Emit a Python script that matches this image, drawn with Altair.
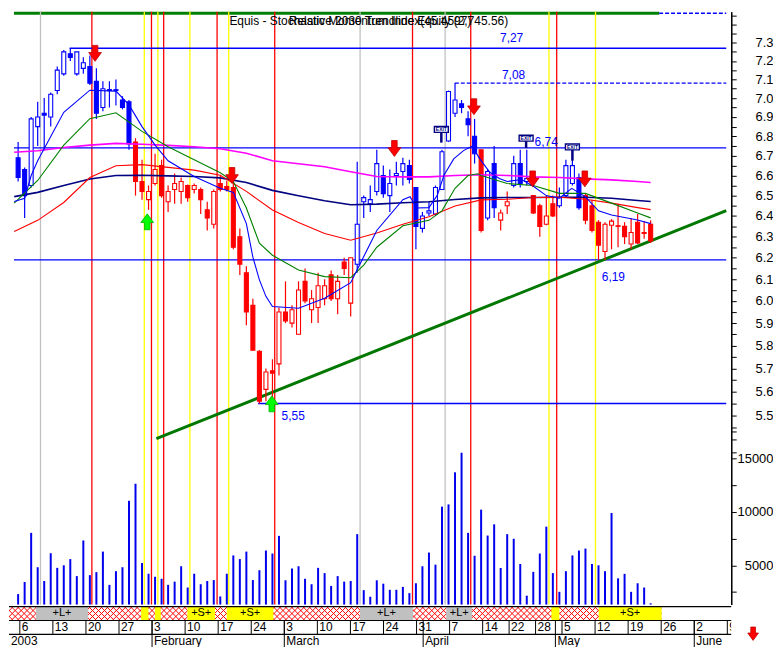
import altair as alt
import pandas as pd
import numpy as np

FONT = "Liberation Sans"
W, H_TOP, H_BOT = 726, 596, 42
X_MIN, X_MAX = -1.637, 107.59          # trading-day index range shown
P_MIN, P_MAX = 4.764, 7.475            # log price range of the upper panel
V_MIN, V_MAX = 1330, 56741             # volume range of the same panel

# ---------------- candles (trading day index, 0 = 6 Jan 2003) ----------------
DAY = list(range(-1, 97))
OPEN = [6.69, 6.63, 6.55, 6.85, 6.92, 6.90, 7.04, 7.13, 7.24, 7.13, 7.16, 7.17, 7.09, 6.95, 7.045, 7.04,
        6.99, 6.98, 6.77, 6.57, 6.48, 6.56, 6.65, 6.47, 6.53, 6.52, 6.55, 6.53, 6.53, 6.43, 6.36, 6.56,
        6.545, 6.54, 6.30, 6.13, 5.98, 5.775, 5.61, 5.69, 5.72, 5.95, 5.90, 5.85, 6.09, 5.96, 5.97, 6.01,
        6.12, 6.01, 6.18, 5.99, 6.17, 6.47, 6.46, 6.52, 6.60, 6.50, 6.60, 6.62, 6.65, 6.54, 6.34, 6.415,
        6.41, 6.53, 6.775, 6.92, 6.97, 6.89, 6.80, 6.73, 6.39, 6.66, 6.38, 6.45, 6.55, 6.66, 6.57, 6.50,
        6.45, 6.36, 6.46, 6.45, 6.50, 6.56, 6.59, 6.50, 6.45, 6.37, 6.23, 6.355, 6.35, 6.35, 6.265, 6.37,
        6.32, 6.36]
HIGH = [6.77, 6.64, 6.90, 6.98, 7.00, 7.03, 7.17, 7.26, 7.27, 7.25, 7.22, 7.23, 7.16, 7.09, 7.09, 7.10,
        7.01, 6.99, 6.79, 6.68, 6.55, 6.71, 6.68, 6.55, 6.61, 6.59, 6.555, 6.56, 6.54, 6.47, 6.53, 6.60,
        6.575, 6.59, 6.34, 6.16, 6.01, 5.78, 5.70, 5.74, 5.97, 6.09, 5.98, 6.09, 6.15, 6.05, 6.13, 6.10,
        6.14, 6.12, 6.20, 6.20, 6.67, 6.50, 6.55, 6.73, 6.65, 6.63, 6.67, 6.69, 6.68, 6.54, 6.42, 6.47,
        6.55, 6.73, 7.04, 7.08, 6.99, 6.93, 6.89, 6.73, 6.63, 6.75, 6.43, 6.52, 6.70, 6.73, 6.73, 6.50,
        6.46, 6.50, 6.50, 6.54, 6.68, 6.68, 6.61, 6.51, 6.48, 6.38, 6.37, 6.385, 6.46, 6.37, 6.39, 6.41,
        6.375, 6.38]
LOW = [6.57, 6.39, 6.54, 6.75, 6.73, 6.85, 7.02, 7.12, 7.20, 7.12, 7.13, 7.07, 6.89, 6.93, 6.95, 6.96,
       6.94, 6.73, 6.50, 6.48, 6.43, 6.55, 6.49, 6.42, 6.46, 6.46, 6.47, 6.51, 6.41, 6.33, 6.34, 6.52,
       6.52, 6.24, 6.12, 5.89, 5.78, 5.55, 5.56, 5.56, 5.67, 5.90, 5.88, 5.85, 5.99, 5.90, 5.90, 5.98,
       6.00, 5.94, 6.12, 5.93, 6.13, 6.39, 6.42, 6.50, 6.49, 6.42, 6.55, 6.55, 6.56, 6.24, 6.32, 6.40,
       6.40, 6.53, 6.77, 6.90, 6.92, 6.80, 6.66, 6.32, 6.38, 6.39, 6.33, 6.41, 6.54, 6.54, 6.55, 6.41,
       6.30, 6.355, 6.395, 6.44, 6.49, 6.55, 6.43, 6.36, 6.32, 6.19, 6.19, 6.24, 6.25, 6.265, 6.24, 6.265,
       6.29, 6.27]
CLOSE = [6.59, 6.50, 6.89, 6.90, 6.91, 7.02, 7.15, 7.25, 7.22, 7.25, 7.19, 7.08, 6.92, 7.05, 7.04, 7.045,
         6.95, 6.76, 6.57, 6.52, 6.52, 6.63, 6.50, 6.52, 6.56, 6.57, 6.49, 6.55, 6.48, 6.39, 6.52, 6.53,
         6.53, 6.25, 6.17, 5.95, 5.78, 5.56, 5.685, 5.68, 5.95, 5.91, 5.96, 6.05, 6.00, 6.01, 6.07, 6.07,
         6.01, 6.09, 6.15, 6.20, 6.36, 6.49, 6.48, 6.66, 6.51, 6.56, 6.61, 6.66, 6.58, 6.35, 6.40, 6.425,
         6.54, 6.72, 7.035, 6.99, 6.95, 6.86, 6.71, 6.33, 6.62, 6.44, 6.415, 6.47, 6.66, 6.56, 6.585, 6.415,
         6.35, 6.40, 6.40, 6.49, 6.65, 6.65, 6.44, 6.38, 6.33, 6.26, 6.36, 6.375, 6.353, 6.30, 6.32, 6.27,
         6.316, 6.28]
# system state per bar: B = long (blue), R = short (red)
STATE = list("BBBBBBBBBBBBBBBBBB" + "RRRRRRRRRRRRRRRRRRRRRRRRRRRRRRRRRR" + "BBBBBBBBBBBBBBBBBBB"
             + "R" + "BB" + "RR" + "BBB" + "RRRR" + "BBBB" + "RRRRRRRRRRR")
VOLUME = [2310, 3440, 8030, 4820, 3530, 6130, 4760, 5000, 5580, 3990,
          7320, 4080, 4360, 6280, 3170, 4450, 4820, 11030, 12620, 5210,
          4210, 3930, 3740, 3170, 3470, 4910, 2920, 4210, 3230, 3530,
          3620, 2090, 4210, 5920, 5580, 6280, 3620, 4540, 6380, 6100,
          7750, 3600, 4700, 4910, 3740, 3230, 4760, 4270, 3070, 3990,
          3470, 3530, 7910, 2680, 2060, 3600, 3280, 2710, 2710, 2980,
          2400, 3320, 4910, 6190, 5060, 10480, 10690, 13690, 15520, 8030,
          5890, 10200, 7780, 8830, 4750, 7910, 7480, 5120, 2160, 4390,
          6100, 8610, 4270, 2520, 4450, 5920, 6380, 6560, 5120, 5000,
          4450, 9890, 3780, 4200, 2520, 3320, 2920, 1450]

# ---------------- moving averages ----------------
MA_K = [-1.6, 2, 6, 10, 14, 18, 22, 26, 30, 34, 38, 42, 46, 50, 54, 58, 62, 66, 70, 74, 78, 82, 86, 90, 94, 96]
BLUE_K = [-1.6, 0, 1, 2, 6, 10, 14, 16, 18, 20, 22, 26, 30, 32, 34, 35, 36, 37, 38, 42, 46, 50, 54, 58, 59.1,
          60.1, 62, 63.3, 64.3, 65.8, 67.3, 68.6, 69.8, 71.3, 72.8, 74, 76.2, 78, 80, 82, 83.9, 86, 88, 90, 94, 96]
BLUE_P = [6.471, 6.487, 6.600, 6.674, 6.925, 7.042, 7.037, 6.964, 6.850, 6.754, 6.674, 6.595, 6.536, 6.516,
          6.363, 6.203, 6.097, 6.021, 5.975, 5.967, 6.012, 6.084, 6.330, 6.480, 6.495, 6.439, 6.441, 6.503,
          6.601, 6.684, 6.726, 6.748, 6.684, 6.617, 6.585, 6.570, 6.580, 6.546, 6.500, 6.487, 6.536, 6.494,
          6.425, 6.405, 6.381, 6.363]
GREEN_K = [-1.6, 2, 6, 10, 14, 18, 22, 26, 30, 32, 34, 36, 38, 42, 46, 50, 52, 54, 58, 62, 64, 66, 68, 69.5,
           70, 74, 78, 82, 86, 90, 94, 96]
GREEN_P = [6.463, 6.575, 6.754, 6.891, 6.922, 6.825, 6.746, 6.679, 6.614, 6.570, 6.439, 6.269, 6.212, 6.143,
           6.112, 6.107, 6.166, 6.250, 6.353, 6.379, 6.425, 6.536, 6.600, 6.609, 6.600, 6.560, 6.550, 6.511,
           6.511, 6.463, 6.415, 6.391]
RED_P = [6.325, 6.379, 6.466, 6.590, 6.649, 6.655, 6.641, 6.627, 6.601, 6.521, 6.429, 6.369, 6.316, 6.283,
         6.318, 6.360, 6.396, 6.449, 6.479, 6.482, 6.491, 6.492, 6.482, 6.463, 6.441, 6.431]
NAVY_P = [6.495, 6.516, 6.550, 6.583, 6.600, 6.601, 6.598, 6.595, 6.588, 6.565, 6.526, 6.499, 6.475, 6.455,
          6.458, 6.465, 6.470, 6.481, 6.489, 6.491, 6.491, 6.492, 6.492, 6.487, 6.476, 6.471]
MAGENTA_P = [6.718, 6.725, 6.742, 6.754, 6.763, 6.759, 6.753, 6.746, 6.736, 6.713, 6.674, 6.659, 6.644, 6.619,
             6.595, 6.593, 6.593, 6.600, 6.604, 6.600, 6.593, 6.590, 6.583, 6.578, 6.570, 6.565]

# ---------------- annotations ----------------
LEVELS = [7.27, 7.08, 6.74, 6.19, 5.55]
LEVEL_FROM = [6.9, 65.97, X_MIN, X_MIN, 35.8]
LEVEL_DASHED = [False, True, False, False, False]
LEVEL_TEXT = ["7,27", "7,08", "6,74", "6,19", "5,55"]
LEVEL_TEXT_K = [72.9, 73.2, 78.2, 88.5, 39.4]
LEVEL_TEXT_P = [7.325, 7.125, 6.77, 6.112, 5.498]

TREND_K = [20.2, 107.59]
TREND_P = [5.404, 6.426]

SIGNAL_K = [2.43, 51.44, 64.48, 18.35, 20.43, 25.34, 31.29, 80.40, 87.54,
            10.31, 19.45, 21.32, 29.51, 38.35, 59.48, 68.41, 81.59]
SIGNAL_KIND = ["long"] * 3 + ["short"] * 6 + ["exit"] * 8

SELL_K = [10.8, 31.8, 56.7, 68.9, 77.9, 85.9]
SELL_P = [7.242, 6.600, 6.737, 6.954, 6.583, 6.583]
BUY_K = [18.8, 37.9]
BUY_P = [6.372, 5.549]

EXIT_K = [63.9, 76.9, 84.0]
EXIT_BOX_P = [6.835, 6.79, 6.745]
EXIT_STEM_TOP = [6.821, 6.777, 6.73]
EXIT_STEM_BOTTOM = [6.767, 6.74, 6.675]

TITLE_A = "Equis - Stochastic Momentum Index(45.4597)"
TITLE_B = "Relative 2030 Trendline Equity (2,745.56)"

PRICE_LABELS = [5.5, 5.6, 5.7, 5.8, 5.9, 6.0, 6.1, 6.2, 6.3, 6.4, 6.5, 6.6, 6.7, 6.8, 6.9, 7.0, 7.1, 7.2, 7.3]
PRICE_MINOR = [5.35, 5.4, 5.45, 5.55, 5.65, 5.75, 5.85, 5.95, 6.05, 6.15, 6.25, 6.35, 6.45, 6.55, 6.65, 6.75,
               6.85, 6.95, 7.05, 7.15, 7.25, 7.35, 7.4, 7.45]
VOL_LABELS = [5000, 10000, 15000]
VOL_MINOR = [2500, 7500, 12500, 17500]

# ---------------- bottom band and date axis ----------------
BAND_START = [2.43, 18.35, 20.43, 25.34, 31.29, 51.44, 64.48, 80.40, 87.54]
BAND_END = [10.31, 19.45, 21.32, 29.51, 38.35, 59.48, 68.41, 81.59, 97.07]
BAND_KIND = ["L", "S", "S", "S", "S", "L", "L", "S", "S"]
BAND_TEXT = ["+L+", "", "", "+S+", "+S+", "+L+", "+L+", "", "+S+"]
BAND_DATA_END = 97.07

DAY_TICK_K = [0, 5, 10, 15, 20, 25, 30, 35, 40, 45, 50, 55, 60, 65, 70, 74, 78, 82, 87, 92, 97, 102, 107]
DAY_TICK_TEXT = ["6", "13", "20", "27", "3", "10", "17", "24", "3", "10", "17", "24", "31", "7", "14",
                 "22", "28", "5", "12", "19", "26", "2", "9"]
MONTH_K = [X_MIN, 20, 40, 61, 81, 102]
MONTH_TEXT = ["2003", "February", "March", "April", "May", "June"]

# =====================================================================
X_SCALE = alt.Scale(domain=[X_MIN, X_MAX], nice=False, zero=False)
P_SCALE = alt.Scale(type="log", domain=[P_MIN, P_MAX], nice=False, zero=False)
V_SCALE = alt.Scale(domain=[V_MIN, V_MAX], nice=False, zero=False)
B_SCALE = alt.Scale(domain=[3, 0], nice=False, zero=False)

BLUE, RED, NAVY = "#0000ff", "#ff0000", "#000080"


def xk(field="k"):
    return alt.X(f"{field}:Q", scale=X_SCALE, axis=None)


def yp(field="p", axis=None):
    return alt.Y(f"{field}:Q", scale=P_SCALE, axis=axis)


def yb(field):
    return alt.Y(f"{field}:Q", scale=B_SCALE, axis=None)


price_axis = alt.Axis(orient="right", values=PRICE_LABELS + PRICE_MINOR, title=None, grid=False,
                      labelExpr="(abs(datum.value*10 - round(datum.value*10)) < 0.001 && datum.value < 7.35 && datum.value > 5.45) ? format(datum.value, '.1f') : ''",
                      tickSize=5, labelPadding=37, labelAlign="right", labelOverlap=False, labelFlush=False,
                      labelFont=FONT, labelFontSize=13, labelColor="black", tickColor="black",
                      domainColor="black", domainWidth=1.2)
vol_axis = alt.Axis(orient="right", values=VOL_LABELS + VOL_MINOR, title=None, grid=False,
                    labelExpr="datum.value % 5000 == 0 ? format(datum.value, 'd') : ''",
                    tickSize=5, labelPadding=37, labelAlign="right", labelOverlap=False, labelFlush=False,
                    labelFont=FONT, labelFontSize=13, labelColor="black", tickColor="black",
                    domainColor="black", domainWidth=1.2)

candles = pd.DataFrame({"k": DAY, "o": OPEN, "h": HIGH, "l": LOW, "c": CLOSE, "state": STATE, "v": VOLUME})
candles["col"] = np.where(candles["state"] == "B", BLUE, RED)
candles["fill"] = np.where(candles["c"] >= candles["o"], "white", candles["col"])
candles["vb"] = V_MIN

layers = []

# window strip at the top
strip = pd.DataFrame({"k": [X_MIN], "k2": [97.3], "p": [7.458], "p2": [P_MAX]})
layers.append(alt.Chart(strip).mark_rect(color="#008000").encode(x=xk(), x2="k2:Q", y=yp(), y2="p2:Q"))
strip2 = pd.DataFrame({"k": [97.3], "k2": [X_MAX], "p": [7.466]})
layers.append(alt.Chart(strip2).mark_rule(color=BLUE, strokeDash=[4, 2], strokeWidth=1.5)
              .encode(x=xk(), x2="k2:Q", y=yp()))

# signal verticals
sig = pd.DataFrame({"k": SIGNAL_K, "kind": SIGNAL_KIND})
sig["c"] = sig["kind"].map({"long": "#c0c0c0", "short": "#ffff00", "exit": RED})
layers.append(alt.Chart(sig).mark_rule(strokeWidth=1.3).encode(x=xk(), color=alt.Color("c:N", scale=None)))

# horizontal levels
lev = pd.DataFrame({"k": LEVEL_FROM, "k2": [X_MAX] * len(LEVELS), "p": LEVELS, "dash": LEVEL_DASHED})
layers.append(alt.Chart(lev[~lev["dash"]]).mark_rule(color=BLUE, strokeWidth=1.4)
              .encode(x=xk(), x2="k2:Q", y=yp()))
layers.append(alt.Chart(lev[lev["dash"]]).mark_rule(color=BLUE, strokeWidth=1.4, strokeDash=[4, 2])
              .encode(x=xk(), x2="k2:Q", y=yp()))

# volume
layers.append(alt.Chart(candles).mark_bar(size=2, color="#0000ee")
              .encode(x=xk(), y=alt.Y("v:Q", scale=V_SCALE, axis=vol_axis), y2="vb:Q"))

# trendline
trend = pd.DataFrame({"k": TREND_K, "p": TREND_P})
layers.append(alt.Chart(trend).mark_line(color="#007800", strokeWidth=3).encode(x=xk(), y=yp()))

# candles
layers.append(alt.Chart(candles).mark_rule(strokeWidth=1.2)
              .encode(x=xk(), y=yp("l", price_axis), y2="h:Q", color=alt.Color("col:N", scale=None)))
layers.append(alt.Chart(candles).mark_bar(size=4, strokeWidth=1.1)
              .encode(x=xk(), y=yp("o"), y2="c:Q", fill=alt.Fill("fill:N", scale=None),
                      stroke=alt.Stroke("col:N", scale=None)))

# moving averages
for ks, ps, colr, sw in [(MA_K, MAGENTA_P, "#ff00ff", 1.6), (MA_K, NAVY_P, NAVY, 1.6),
                         (MA_K, RED_P, RED, 1.1), (GREEN_K, GREEN_P, "#008000", 1.1),
                         (BLUE_K, BLUE_P, BLUE, 1.1)]:
    d = pd.DataFrame({"k": ks, "p": ps})
    layers.append(alt.Chart(d).mark_line(color=colr, strokeWidth=sw).encode(x=xk(), y=yp()))

# arrows
DOWN = "M -0.35 -1 L 0.35 -1 L 0.35 -0.1 L 0.8 -0.1 L 0 1 L -0.8 -0.1 L -0.35 -0.1 Z"
UP = "M -0.35 1 L 0.35 1 L 0.35 0.1 L 0.8 0.1 L 0 -1 L -0.8 0.1 L -0.35 0.1 Z"
sell = pd.DataFrame({"k": SELL_K, "p": SELL_P})
buy = pd.DataFrame({"k": BUY_K, "p": BUY_P})
layers.append(alt.Chart(sell).mark_point(shape=DOWN, size=256, filled=True, fill=RED, stroke="#c00000",
                                         strokeWidth=0.8, opacity=1).encode(x=xk(), y=yp()))
layers.append(alt.Chart(buy).mark_point(shape=UP, size=256, filled=True, fill="#00ff00", stroke="#00b000",
                                        strokeWidth=0.8, opacity=1).encode(x=xk(), y=yp()))

# exit markers
ex = pd.DataFrame({"k": EXIT_K, "p": EXIT_BOX_P, "st": EXIT_STEM_TOP, "sb": EXIT_STEM_BOTTOM})
layers.append(alt.Chart(ex).mark_rule(color=NAVY, strokeWidth=2.5).encode(x=xk(), y=yp("st"), y2="sb:Q"))
BOX = "M -1 -0.42 L 1 -0.42 L 1 0.42 L -1 0.42 Z"
layers.append(alt.Chart(ex).mark_point(shape=BOX, size=196, filled=True, fill="white", stroke=NAVY,
                                       strokeWidth=1.4, opacity=1).encode(x=xk(), y=yp()))
layers.append(alt.Chart(ex).mark_text(text="EXIT", fontSize=5, fontWeight="bold", color=NAVY, font=FONT,
                                      baseline="middle").encode(x=xk(), y=yp()))

# level labels
lt = pd.DataFrame({"k": LEVEL_TEXT_K, "p": LEVEL_TEXT_P, "t": LEVEL_TEXT})
layers.append(alt.Chart(lt).mark_text(align="left", baseline="middle", fontSize=12, font=FONT, color=BLUE)
              .encode(x=xk(), y=yp(), text="t:N"))

# overlapping title strings (they overlap in the original as well)
tt = pd.DataFrame({"k": [31.4, 40.5], "p": [7.42, 7.42], "t": [TITLE_A, TITLE_B]})
layers.append(alt.Chart(tt).mark_text(align="left", baseline="middle", fontSize=12, font=FONT, color="black")
              .encode(x=xk(), y=yp(), text="t:N"))

top = alt.layer(*layers).resolve_scale(y="independent").properties(width=W, height=H_TOP)

# ---------------- bottom band + date rows ----------------
blayers = []
hs = np.arange(-4.0, 97.5, 0.9)
hatch = pd.DataFrame({"a": np.concatenate([hs, hs]), "b": np.concatenate([hs + 2.1, hs + 2.1]),
                      "r0": [1.0] * len(hs) + [0.0] * len(hs), "r1": [0.0] * len(hs) + [1.0] * len(hs)})
blayers.append(alt.Chart(hatch).mark_rule(color=RED, strokeWidth=1, clip=True)
               .encode(x=xk("a"), x2="b:Q", y=yb("r0"), y2="r1:Q"))
blank = pd.DataFrame({"a": [BAND_DATA_END], "b": [X_MAX], "r0": [0], "r1": [1]})
blayers.append(alt.Chart(blank).mark_rect(color="white").encode(x=xk("a"), x2="b:Q", y=yb("r0"), y2="r1:Q"))
band = pd.DataFrame({"a": BAND_START, "b": BAND_END, "kind": BAND_KIND, "t": BAND_TEXT,
                     "r0": [0] * len(BAND_KIND), "r1": [1] * len(BAND_KIND)})
band["f"] = band["kind"].map({"L": "#c0c0c0", "S": "#ffff00"})
band["m"] = (band["a"] + band["b"]) / 2
band["rm"] = 0.5
blayers.append(alt.Chart(band).mark_rect().encode(x=xk("a"), x2="b:Q", y=yb("r0"), y2="r1:Q",
                                                  fill=alt.Fill("f:N", scale=None)))
blayers.append(alt.Chart(band[band["t"] != ""]).mark_text(fontSize=11, font=FONT, color="black", baseline="middle")
               .encode(x=xk("m"), y=yb("rm"), text="t:N"))
rows = pd.DataFrame({"a": [X_MIN] * 3, "b": [X_MAX] * 3, "r": [0, 1, 2]})
blayers.append(alt.Chart(rows).mark_rule(color="black", strokeWidth=1.2).encode(x=xk("a"), x2="b:Q", y=yb("r")))
days = pd.DataFrame({"k": DAY_TICK_K, "t": DAY_TICK_TEXT, "r0": 1, "r1": 2, "rm": 1.5})
blayers.append(alt.Chart(days).mark_rule(color="black", strokeWidth=1).encode(x=xk(), y=yb("r0"), y2="r1:Q"))
blayers.append(alt.Chart(days).mark_text(align="left", baseline="middle", dx=2, fontSize=12, font=FONT,
                                         color="black", clip=True).encode(x=xk(), y=yb("rm"), text="t:N"))
months = pd.DataFrame({"k": MONTH_K, "t": MONTH_TEXT, "r0": 1, "r1": 3, "rm": 2.5})
blayers.append(alt.Chart(months[months["k"] > X_MIN]).mark_rule(color="black", strokeWidth=1)
               .encode(x=xk(), y=yb("r0"), y2="r1:Q"))
blayers.append(alt.Chart(months).mark_text(align="left", baseline="middle", dx=2, fontSize=12, font=FONT,
                                           color="black").encode(x=xk(), y=yb("rm"), text="t:N"))
corner = pd.DataFrame({"k": [110.9], "r": [1.95]})
blayers.append(alt.Chart(corner).mark_point(shape=DOWN, size=180, filled=True, fill=RED, stroke="#c00000",
                                            strokeWidth=0.8, opacity=1).encode(x=xk(), y=yb("r")))

bottom = alt.layer(*blayers).properties(width=W, height=H_BOT)

chart = alt.vconcat(top, bottom, spacing=0, padding=0, background="white").configure_view(stroke=None)
chart.save("out.html", embed_options={"renderer": "svg", "actions": False})
